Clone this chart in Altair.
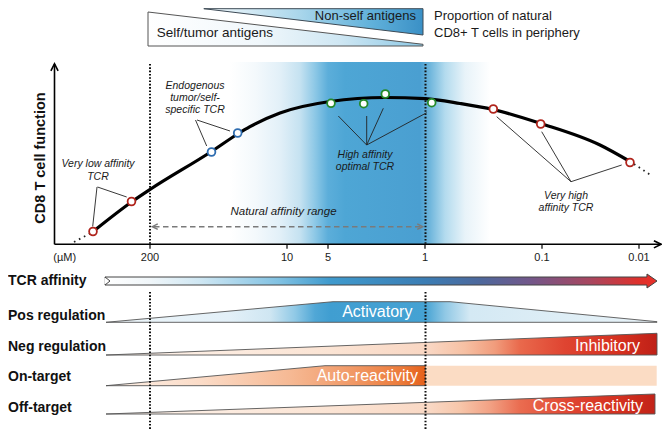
import altair as alt
import pandas as pd

FONT = "Liberation Sans"

# ---------------- data (diagram coordinates) ----------------
# response curve
CURVE_X = [95, 131.5, 150, 211.5, 237.7, 250, 280, 330, 385, 425, 460, 493, 540.7, 600, 630]
CURVE_Y = [230, 202, 189.5, 151.5, 134, 126.7, 113, 101.5, 97.5, 98.7, 103.5, 109.5, 123.5, 145, 161.5]
TAIL_START_X = [74, 91]
TAIL_START_Y = [242, 233]
TAIL_END_X = [634, 652]
TAIL_END_Y = [164, 176]

# TCR examples on the curve
PT_X = [93, 131.5, 211.5, 237.7, 331, 363.7, 385.3, 431.7, 493.3, 540.7, 630]
PT_Y = [231.5, 201.5, 152, 133, 103.3, 103.7, 94, 102.7, 109, 124, 162.5]
PT_GROUP = ["low", "low", "endo", "endo", "opt", "opt", "opt", "opt", "high", "high", "high"]
GROUPS = ["low", "endo", "opt", "high"]
GROUP_COLORS = ["#b0241c", "#2f6db0", "#258a2a", "#b0241c"]

# leader lines
LEAD_X1 = [97, 97.5, 195.5, 197, 366.7, 366.7, 366.7, 366.7, 571, 571, 571]
LEAD_Y1 = [187, 187, 120, 120, 145, 145, 145, 145, 181.7, 181.7, 181.7]
LEAD_X2 = [92.7, 126.7, 206.7, 230, 338.3, 366.7, 383.3, 426.7, 496.7, 541.7, 621.7]
LEAD_Y2 = [226.5, 197, 146, 131, 116, 116, 108.3, 112.7, 116.7, 131.7, 165]

ANN_TEXT = ["Very low affinity", "TCR", "Endogenous", "tumor/self-", "specific TCR",
            "High affinity", "optimal TCR", "Very high", "affinity TCR"]
ANN_X = [98, 98, 195, 195, 195, 365, 365, 566, 566]
ANN_Y = [164.3, 176.7, 86, 98.3, 110.3, 155, 167.3, 196, 207.7]

# natural affinity range
RANGE_X = [154, 421]
RANGE_Y = [226.7, 226.7]
RANGE_LABEL = "Natural affinity range"

# axes
AXIS_X0, AXIS_X1 = 54.5, 659
AXIS_Y0, AXIS_Y1 = 66, 244.3
TICK_POS = [150, 287, 328, 425, 542, 639]
TICK_LABELS = ["200", "10", "5", "1", "0.1", "0.01"]
UNIT_LABEL = "(\u00b5M)"
Y_TITLE = "CD8 T cell function"

# background band of natural affinities
BAND_X = [230, 490]
BAND_Y = [62, 244.3]

# dotted range limits (upper panel and lower panel segments)
LIMIT_X = [150, 425.5]
LIMIT_TOP = [64, 292]
LIMIT_BOT = [244, 437]

# header wedges (upper one is cut by the top edge of the picture)
UPPER_X = [203.8, 423]
UPPER_TOP = [8.7, 8.7]
UPPER_BOT = [8.7, 35]
LOWER_X = [148, 423]
LOWER_TOP = [12, 44.3]
LOWER_BOT = [46, 46]
HEADER_TEXT = ["Non-self antigens", "Self/tumor antigens"]
SIDE_TEXT = ["Proportion of natural", "CD8+ T cells in periphery"]

# TCR affinity arrow
ARROW_X = [105, 646.9, 647, 657]
ARROW_TOP = [277, 277, 274, 281]
ARROW_BOT = [285, 285, 288, 281]

# regulation rows
ROW_LABELS = ["TCR affinity", "Pos regulation", "Neg regulation", "On-target", "Off-target"]
ROW_LABEL_Y = [280.5, 315.7, 347.3, 376.7, 407.7]
POS_X = [106, 333, 450, 657]
POS_TOP = [322.3, 301.7, 301.7, 321.7]
POS_BOT = [322.3, 322.3, 322.3, 322.3]
NEG_X = [106, 657]
NEG_TOP = [355, 333.3]
NEG_BOT = [355, 355]
ON_X = [106, 325, 425.7]
ON_TOP = [385.7, 365.7, 365.7]
ON_BOT = [385.7, 385.7, 385.7]
ON_REST_X = [425.7, 656.7]
ON_REST_Y = [365.7, 385.7]
OFF_X = [106, 655]
OFF_TOP = [414, 394]
OFF_BOT = [414, 414]
IN_TEXT = ["Activatory", "Inhibitory", "Auto-reactivity", "Cross-reactivity"]

# ---------------- helpers ----------------
XS = alt.Scale(domain=[8, 662], nice=False, zero=False)
YS = alt.Scale(domain=[8, 429], nice=False, zero=False, reverse=True)


def X(f="x"):
    return alt.X(f + ":Q", scale=XS, axis=None)


def Y(f="y"):
    return alt.Y(f + ":Q", scale=YS, axis=None)


def grad(stops, x0, x1):
    return {"gradient": "linear", "x1": 0, "y1": 0, "x2": 1, "y2": 0,
            "stops": [{"offset": round(min(1, max(0, (x - x0) / (x1 - x0))), 4), "color": c}
                      for x, c in stops]}


def area(xs, top, bot, fill, stroke="#555", sw=0.9):
    df = pd.DataFrame({"x": xs, "y": top, "y2": bot})
    kw = dict(fill=fill, interpolate="linear", fillOpacity=1, orient="vertical")
    if stroke:
        kw.update(stroke=stroke, strokeWidth=sw)
    else:
        kw.update(strokeWidth=0)
    return alt.Chart(df).mark_area(**kw).encode(x=X(), y=Y(), y2=alt.Y2("y2:Q"))


def rules(x1, y1, x2, y2, **kw):
    df = pd.DataFrame({"x": x1, "y": y1, "x2": x2, "y2": y2})
    return alt.Chart(df).mark_rule(**kw).encode(
        x=X(), y=Y(), x2=alt.X2("x2:Q"), y2=alt.Y2("y2:Q"))


def texts(t, xs, ys, **kw):
    df = pd.DataFrame({"x": xs, "y": ys, "t": t})
    base = dict(font=FONT, baseline="middle")
    base.update(kw)
    return alt.Chart(df).mark_text(**base).encode(x=X(), y=Y(), text="t:N")


def chevrons(xs, ys, path, size, color, sw=1.5):
    df = pd.DataFrame({"x": xs, "y": ys})
    return alt.Chart(df).mark_point(shape=path, size=size, filled=False, stroke=color,
                                    strokeWidth=sw, opacity=1).encode(x=X(), y=Y())


layers = []

# background band
band = pd.DataFrame({"x": [BAND_X[0]], "x2": [BAND_X[1]], "y": [BAND_Y[0]], "y2": [BAND_Y[1]]})
band_fill = grad([(230, "#ffffff"), (255, "#f4f9fc"), (280, "#e2f0f8"), (300, "#c5e2f1"),
                  (315, "#8dc8e6"), (328, "#5caeda"), (345, "#4ea6d5"), (420, "#4a9fd1"),
                  (430, "#6fb6dc"), (445, "#b3dbee"), (465, "#e8f3f9"), (490, "#ffffff")], 230, 490)
layers.append(alt.Chart(band).mark_rect(fill=band_fill, strokeWidth=0).encode(
    x=X(), x2=alt.X2("x2:Q"), y=Y(), y2=alt.Y2("y2:Q")))

# header wedges
layers.append(area(UPPER_X, UPPER_TOP, UPPER_BOT,
                   grad([(203.8, "#f3f9fc"), (230, "#e3f1f8"), (300, "#a9d6eb"),
                         (370, "#62b2db"), (423, "#3a90c6")], 203.8, 423), stroke="#3d4a55", sw=1))
layers.append(area(LOWER_X, LOWER_TOP, LOWER_BOT,
                   grad([(148, "#ffffff"), (260, "#f0f7fb"), (340, "#cfe7f3"),
                         (423, "#8cc8e5")], 148, 423), stroke="#555", sw=1))
layers.append(texts([HEADER_TEXT[0]], [416], [16], align="right", fontSize=13, color="#1a1a1a"))
layers.append(texts([HEADER_TEXT[1]], [156.7], [33.3], align="left", fontSize=13.5, color="#1a1a1a"))
layers.append(texts(SIDE_TEXT, [434, 434], [16, 33], align="left", fontSize=13, color="#1a1a1a"))

# lower rows
layers.append(area(POS_X, POS_TOP, POS_BOT,
                   grad([(106, "#eef6fa"), (230, "#e3f0f8"), (270, "#cfe6f2"), (295, "#90c9e6"),
                         (315, "#50a7d6"), (330, "#409ed1"), (425, "#45a2d3"), (445, "#90c8e5"),
                         (470, "#d4e9f4"), (657, "#e9f3f8")], 106, 657)))
layers.append(area(NEG_X, NEG_TOP, NEG_BOT,
                   grad([(106, "#fdf3ec"), (330, "#fbe4d4"), (430, "#f9d6c2"), (465, "#f6c0a3"),
                         (495, "#f19c7c"), (520, "#e9694c"), (565, "#df4431"), (620, "#d5301f"),
                         (657, "#bf2017")], 106, 657)))
layers.append(area(ON_X, ON_TOP, ON_BOT,
                   grad([(106, "#fdf1e8"), (200, "#fbdcc8"), (290, "#f6b994"), (350, "#f19a68"),
                         (400, "#ec7c3c"), (425.7, "#e5601a")], 106, 425.7)))
on_rest = pd.DataFrame({"x": [ON_REST_X[0]], "x2": [ON_REST_X[1]],
                        "y": [ON_REST_Y[0]], "y2": [ON_REST_Y[1]]})
layers.append(alt.Chart(on_rest).mark_rect(fill="#fbdcc4", strokeWidth=0).encode(
    x=X(), x2=alt.X2("x2:Q"), y=Y(), y2=alt.Y2("y2:Q")))
layers.append(area(OFF_X, OFF_TOP, OFF_BOT,
                   grad([(106, "#fdf3ec"), (330, "#fbe4d4"), (430, "#f9d8c4"), (460, "#f7c6aa"),
                         (490, "#f2a184"), (520, "#ea6c50"), (570, "#df4431"), (620, "#d3301f"),
                         (655, "#c22318")], 106, 655)))
layers.append(texts([IN_TEXT[0]], [377.3], [312], align="center", fontSize=16, color="white"))
layers.append(texts([IN_TEXT[1]], [640], [345.5], align="right", fontSize=16, color="white"))
layers.append(texts([IN_TEXT[2]], [418], [376], align="right", fontSize=16, color="white"))
layers.append(texts([IN_TEXT[3]], [643], [405.5], align="right", fontSize=16, color="white"))

# TCR affinity arrow
layers.append(area(ARROW_X, ARROW_TOP, ARROW_BOT,
                   grad([(105, "#ffffff"), (150, "#f0f6f9"), (200, "#cfe7f3"), (280, "#80c1e2"),
                         (330, "#3f9acd"), (425, "#3b7db4"), (480, "#4d689c"), (530, "#72578a"),
                         (590, "#a8465f"), (640, "#e0302a"), (657, "#e8302a")], 105, 657),
                   stroke="#444", sw=1))
layers.append(area([104.4, 110], [277.6, 281], [284.4, 281], "#ffffff", stroke=None))
layers.append(rules([105, 110], [277, 281], [110, 105], [281, 285], color="#444", strokeWidth=1))

# axes
layers.append(rules([AXIS_X0], [AXIS_Y0 - 2], [AXIS_X0], [AXIS_Y1], color="black", strokeWidth=1.6))
layers.append(rules([AXIS_X0], [AXIS_Y1], [AXIS_X1 + 2], [AXIS_Y1], color="black", strokeWidth=1.6))
layers.append(chevrons([AXIS_X0], [AXIS_Y0 + 1.3], "M-1,1L0,-1L1,1", 52, "black", 1.6))
layers.append(chevrons([AXIS_X1 - 1.5], [AXIS_Y1], "M-1,-1L1,0L-1,1", 52, "black", 1.6))
layers.append(rules(TICK_POS, [AXIS_Y1] * len(TICK_POS), TICK_POS, [AXIS_Y1 + 4.5] * len(TICK_POS),
                    color="black", strokeWidth=1.2))
layers.append(texts(TICK_LABELS, TICK_POS, [257.5] * len(TICK_POS), align="center",
                    fontSize=11, color="#1a1a1a"))
layers.append(texts([UNIT_LABEL], [64.7], [257.5], align="center", fontSize=11, color="#1a1a1a"))
layers.append(texts([Y_TITLE], [41], [158], align="center", angle=270, fontSize=14.5,
                    fontWeight="bold", color="#111"))

# dotted range limits
lim_x1 = [x for x in LIMIT_X for _ in range(2)]
lim_y1 = LIMIT_TOP * 2
lim_y2 = LIMIT_BOT * 2
layers.append(rules(lim_x1, lim_y1, lim_x1, lim_y2,
                    color="#111", strokeWidth=2, strokeDash=[1.6, 1.7]))

# natural affinity range arrow
layers.append(rules([RANGE_X[0]], [RANGE_Y[0]], [RANGE_X[1]], [RANGE_Y[1]],
                    color="#7a7a7a", strokeWidth=1.4, strokeDash=[5.5, 3.5]))
layers.append(chevrons([RANGE_X[0] + 1], [RANGE_Y[0]], "M1,-1L-1,0L1,1", 30, "#7a7a7a", 1.4))
layers.append(chevrons([RANGE_X[1] - 1], [RANGE_Y[1]], "M-1,-1L1,0L-1,1", 30, "#7a7a7a", 1.4))
layers.append(texts([RANGE_LABEL], [283.5], [211.7], align="center", fontSize=11.5,
                    fontStyle="italic", color="#1a1a1a"))

# leader lines
layers.append(rules(LEAD_X1, LEAD_Y1, LEAD_X2, LEAD_Y2, color="#222", strokeWidth=0.9))

# curve
curve = pd.DataFrame({"x": CURVE_X, "y": CURVE_Y})
layers.append(alt.Chart(curve).mark_line(color="black", strokeWidth=3.2, interpolate="monotone",
                                         strokeCap="round").encode(x=X(), y=Y()))
for tx, ty in [(TAIL_START_X, TAIL_START_Y), (TAIL_END_X, TAIL_END_Y)]:
    tdf = pd.DataFrame({"x": tx, "y": ty})
    layers.append(alt.Chart(tdf).mark_line(color="#222", strokeWidth=1.8,
                                           strokeDash=[1.6, 4]).encode(x=X(), y=Y()))

# TCR points
pts = pd.DataFrame({"x": PT_X, "y": PT_Y, "g": PT_GROUP})
layers.append(alt.Chart(pts).mark_point(shape="circle", filled=True, fill="white", size=60,
                                        strokeWidth=1.8, opacity=1, fillOpacity=1).encode(
    x=X(), y=Y(),
    stroke=alt.Stroke("g:N", scale=alt.Scale(domain=GROUPS, range=GROUP_COLORS), legend=None)))

# annotations
layers.append(texts(ANN_TEXT, ANN_X, ANN_Y, align="center", fontSize=10.5,
                    fontStyle="italic", color="#1a1a1a"))

# row labels
layers.append(texts(ROW_LABELS, [8] * len(ROW_LABELS), ROW_LABEL_Y, align="left", fontSize=14,
                    fontWeight="bold", color="#111"))

chart = alt.layer(*layers).properties(
    width=654, height=421, autosize=alt.AutoSizeParams(type="none"), padding=0
).configure_view(stroke=None)

chart.save("out.html", embed_options={"renderer": "svg", "actions": False})
